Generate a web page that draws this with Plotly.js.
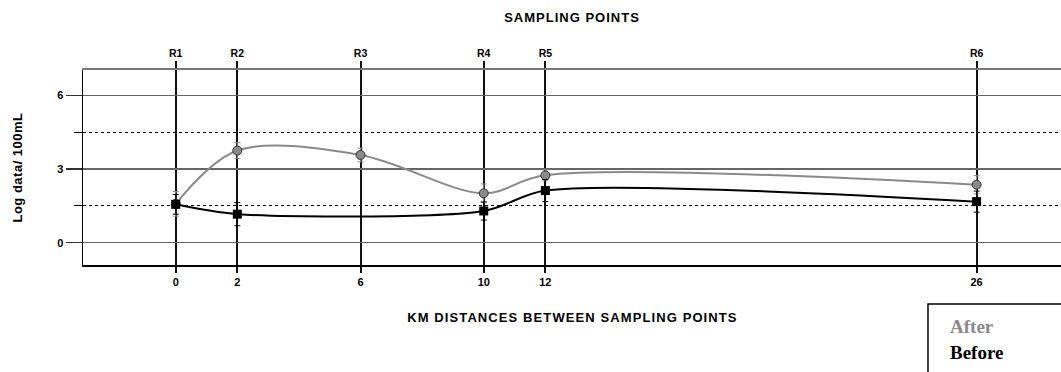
<!DOCTYPE html>
<html>
<head>
<meta charset="utf-8">
<script src="https://cdn.plot.ly/plotly-3.0.1.min.js"></script>
<style>html,body{margin:0;padding:0;background:#fff;}#chart{width:1061px;height:372px;}</style>
</head>
<body>
<div id="chart"></div>
<script>
// Data
const distances = [0, 2, 6, 10, 12, 26];
const sitesLabels = ["R1", "R2", "R3", "R4", "R5", "R6"];
const afterX = [0, 2, 6, 10, 12, 26];
const afterY = [1.58, 3.75, 3.57, 2.01, 2.74, 2.36];
const afterErr = [0.5, 0.32, 0.28, 0.38, 0.22, 0.37];
const beforeX = [0, 2, 10, 12, 26];
const beforeY = [1.56, 1.16, 1.29, 2.12, 1.67];
const beforeErr = [0.4, 0.47, 0.37, 0.45, 0.43];
const yTicks = [0, 3, 6];
const legendNames = ["After", "Before"];

const bold = a => a.map(v => "<b>" + v + "</b>");
const font = "Liberation Sans, Arial, sans-serif";
const serif = "Liberation Serif, Times New Roman, serif";

const traces = [
  {
    x: afterX, y: afterY, name: legendNames[0], type: "scatter", mode: "lines+markers",
    line: {shape: "spline", smoothing: 0.95, color: "#8a8a8a", width: 2},
    marker: {symbol: "circle", size: 9, color: "#8a8a8a", line: {color: "#333", width: 1}},
    error_y: {type: "data", array: afterErr, visible: true, color: "#8a8a8a", thickness: 1, width: 3},
    showlegend: false, hoverinfo: "x+y"
  },
  {
    x: beforeX, y: beforeY, name: legendNames[1], type: "scatter", mode: "lines+markers",
    line: {shape: "spline", smoothing: 0.8, color: "#000", width: 2},
    marker: {symbol: "square", size: 9, color: "#000"},
    error_y: {type: "data", array: beforeErr, visible: true, color: "#000", thickness: 1, width: 3},
    showlegend: false, hoverinfo: "x+y"
  },
  {
    x: distances, y: distances.map(() => null), xaxis: "x2", yaxis: "y",
    type: "scatter", mode: "markers", marker: {opacity: 0}, showlegend: false, hoverinfo: "skip"
  }
];

const xr = [-3.01, 28.74];
const layout = {
  width: 1061, height: 372,
  margin: {l: 83, r: 0, t: 70, b: 107},
  paper_bgcolor: "#fff", plot_bgcolor: "#fff",
  font: {family: font, color: "#000", size: 10},
  title: {text: "<b>SAMPLING POINTS</b>", font: {family: font, size: 13, color: "#000"},
          x: 0.5, xref: "paper", xanchor: "center", y: 0.954, yref: "container", yanchor: "middle"},
  xaxis: {
    range: xr, tickvals: distances, ticktext: bold(distances), tickfont: {size: 11, family: font},
    showgrid: true, gridcolor: "#111", gridwidth: 2,
    ticks: "outside", ticklen: 6, tickcolor: "#111", tickwidth: 2,
    showline: true, linecolor: "#000", linewidth: 1.5, zeroline: false, mirror: false
  },
  xaxis2: {
    range: xr, overlaying: "x", side: "top", anchor: "y",
    tickvals: distances, ticktext: bold(sitesLabels), tickfont: {size: 10.5, family: font},
    showgrid: false, ticks: "outside", ticklen: 7, tickcolor: "#111", tickwidth: 2,
    showline: true, linecolor: "#777", linewidth: 2, zeroline: false
  },
  yaxis: {
    range: [-0.91, 7.03], tickvals: yTicks, ticktext: bold(yTicks), tickfont: {size: 11, family: font},
    showgrid: true, gridcolor: "#666", gridwidth: 1.5,
    ticks: "outside", ticklen: 16, tickcolor: "#333", tickwidth: 1.5,
    showline: true, linecolor: "#000", linewidth: 1.5, zeroline: false,
    minor: {tickvals: [1.5, 4.5], showgrid: true, griddash: "dot", gridcolor: "#000", gridwidth: 1,
            ticks: "outside", ticklen: 8, tickcolor: "#000", tickwidth: 1},
    title: {text: "<b>Log data/ 100mL</b>", font: {family: font, size: 13, color: "#000"}, standoff: 31}
  },
  annotations: [
    {text: "<b>KM DISTANCES BETWEEN SAMPLING POINTS</b>", xref: "paper", yref: "paper",
     x: 0.5, y: -0.27, xanchor: "center", yanchor: "middle", showarrow: false,
     font: {family: font, size: 13, color: "#000"}},
    {text: "<b>" + legendNames[0] + "</b>", xref: "paper", yref: "paper", x: 0.8845, y: -0.315,
     xanchor: "left", yanchor: "middle", showarrow: false,
     font: {family: serif, size: 19, color: "#8a8a8a"}},
    {text: "<b>" + legendNames[1] + "</b>", xref: "paper", yref: "paper", x: 0.8845, y: -0.45,
     xanchor: "left", yanchor: "middle", showarrow: false,
     font: {family: serif, size: 19, color: "#000"}}
  ],
  shapes: [
    {type: "rect", xref: "paper", yref: "paper", x0: 0.864, x1: 1.01, y0: -0.6, y1: -0.2,
     line: {color: "#000", width: 1.5}, fillcolor: "rgba(0,0,0,0)", layer: "above"}
  ]
};

Plotly.newPlot("chart", traces, layout, {displayModeBar: false, staticPlot: true}).then(gd => {
  const t = gd.querySelector("text.gtitle");
  if (t) t.style.letterSpacing = "1px";
  const ann = gd.querySelectorAll("g.annotation text.annotation-text");
  if (ann[0]) ann[0].style.letterSpacing = "1.1px";
  const yt = gd.querySelector("text.ytitle");
  if (yt) yt.style.letterSpacing = "0.5px";
});
</script>
</body>
</html>
